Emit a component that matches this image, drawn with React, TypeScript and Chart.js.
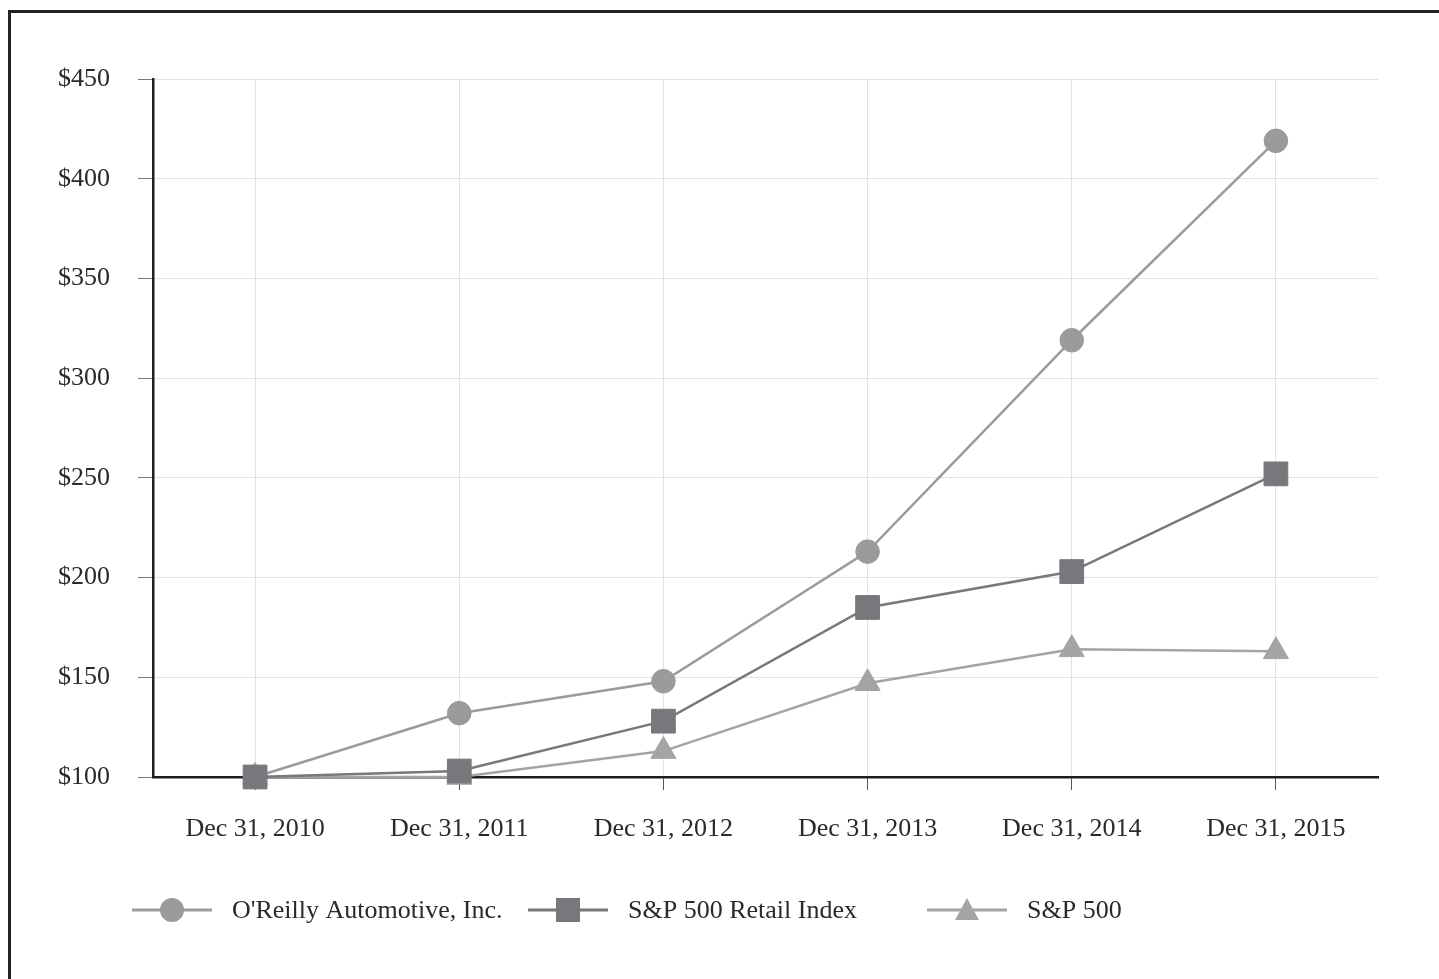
import React, { useEffect, useRef } from "react";
import { Chart, registerables } from "chart.js";

Chart.register(...registerables);

// ---- data ----
const categories = [
  "Dec 31, 2010",
  "Dec 31, 2011",
  "Dec 31, 2012",
  "Dec 31, 2013",
  "Dec 31, 2014",
  "Dec 31, 2015",
];
const oreilly = [100, 132, 148, 213, 319, 419];
const retailIndex = [100, 103, 128, 185, 203, 252];
const sp500 = [100, 100, 113, 147, 164, 163];
const seriesNames = ["O'Reilly Automotive, Inc.", "S&P 500 Retail Index", "S&P 500"];
const yTickValues = [100, 150, 200, 250, 300, 350, 400, 450];

// ---- styles ----
const FONT = "'Liberation Serif', 'Times New Roman', serif";
const TEXT = "#2a2a2a";
const colors = ["#9b9b9d", "#78787c", "#a4a4a6"];
const pointStyles = ["circle", "rect", "triangle"];
const pointRadii = [11.8, 16.8, 14.5];

const CANVAS_W = 1420;
const CANVAS_H = 955;
const LEGEND_Y = 897;
const LEGEND_X = [121, 517, 916];

function drawMarker(ctx: CanvasRenderingContext2D, style: string, x: number, y: number) {
  ctx.beginPath();
  if (style === "circle") {
    ctx.arc(x, y, 12, 0, Math.PI * 2);
  } else if (style === "rect") {
    ctx.rect(x - 12, y - 12, 24, 24);
  } else {
    ctx.moveTo(x, y - 12);
    ctx.lineTo(x + 12, y + 10);
    ctx.lineTo(x - 12, y + 10);
    ctx.closePath();
  }
  ctx.fill();
}

const legendPlugin = {
  id: "customLegend",
  afterDraw(chart: any) {
    const ctx: CanvasRenderingContext2D = chart.ctx;
    chart.data.datasets.forEach((ds: any, i: number) => {
      const x0 = LEGEND_X[i];
      ctx.save();
      ctx.strokeStyle = ds.borderColor;
      ctx.lineWidth = 3;
      ctx.beginPath();
      ctx.moveTo(x0, LEGEND_Y);
      ctx.lineTo(x0 + 80, LEGEND_Y);
      ctx.stroke();
      ctx.fillStyle = ds.pointBackgroundColor;
      drawMarker(ctx, ds.pointStyle, x0 + 40, LEGEND_Y);
      ctx.fillStyle = TEXT;
      ctx.font = `26px ${FONT}`;
      ctx.textBaseline = "middle";
      ctx.textAlign = "left";
      ctx.fillText(ds.label, x0 + 100, LEGEND_Y + 1);
      ctx.restore();
    });
  },
};

export default function App() {
  const ref = useRef<HTMLCanvasElement | null>(null);

  useEffect(() => {
    if (!ref.current) return;
    const seriesData = [oreilly, retailIndex, sp500];
    const drawOrder = [1, 0, 2];
    const chart = new Chart(ref.current, {
      type: "line",
      data: {
        labels: categories,
        datasets: seriesData.map((d, i) => ({
          label: seriesNames[i],
          data: d,
          borderColor: colors[i],
          backgroundColor: colors[i],
          borderWidth: 2.5,
          pointStyle: pointStyles[i],
          pointRadius: pointRadii[i],
          pointHoverRadius: pointRadii[i],
          pointBackgroundColor: colors[i],
          pointBorderColor: colors[i],
          pointBorderWidth: 1,
          tension: 0,
          fill: false,
          clip: false,
          order: drawOrder[i],
        })),
      },
      options: {
        animation: false,
        responsive: false,
        maintainAspectRatio: false,
        layout: { padding: { left: 0, top: 66, right: 53, bottom: 111 } },
        plugins: {
          legend: { display: false },
          tooltip: { enabled: false },
          title: { display: false },
        },
        scales: {
          x: {
            type: "category",
            offset: true,
            afterFit: (s: any) => {
              s.height = 80;
            },
            grid: {
              offset: false,
              color: "#e2e2e2",
              lineWidth: 1,
              tickLength: 13,
              tickColor: "#555",
              drawOnChartArea: true,
            },
            border: { display: true, color: "#1e1e1e", width: 2.5 },
            ticks: {
              color: TEXT,
              font: { family: FONT, size: 26 },
              padding: 24,
              maxRotation: 0,
              autoSkip: false,
            },
          },
          y: {
            min: yTickValues[0],
            max: yTickValues[yTickValues.length - 1],
            afterFit: (s: any) => {
              s.width = 142;
            },
            afterBuildTicks: (s: any) => {
              s.ticks = yTickValues.map((v) => ({ value: v }));
            },
            grid: {
              color: "#e2e2e2",
              lineWidth: 1,
              tickLength: 15,
              tickColor: "#777",
            },
            border: { display: true, color: "#1e1e1e", width: 2.5 },
            ticks: {
              color: TEXT,
              font: { family: FONT, size: 26 },
              padding: 28,
              callback: (v: any) => "$" + v,
            },
          },
        },
      },
      plugins: [legendPlugin],
    });
    return () => chart.destroy();
  }, []);

  return (
    <div
      style={{
        position: "fixed",
        left: 8,
        top: 10,
        width: 1460,
        height: 1000,
        borderTop: "3px solid #222",
        borderLeft: "3px solid #222",
        boxSizing: "border-box",
      }}
    >
      <canvas
        ref={ref}
        width={CANVAS_W}
        height={CANVAS_H}
        style={{ display: "block", width: CANVAS_W, height: CANVAS_H }}
      />
    </div>
  );
}
